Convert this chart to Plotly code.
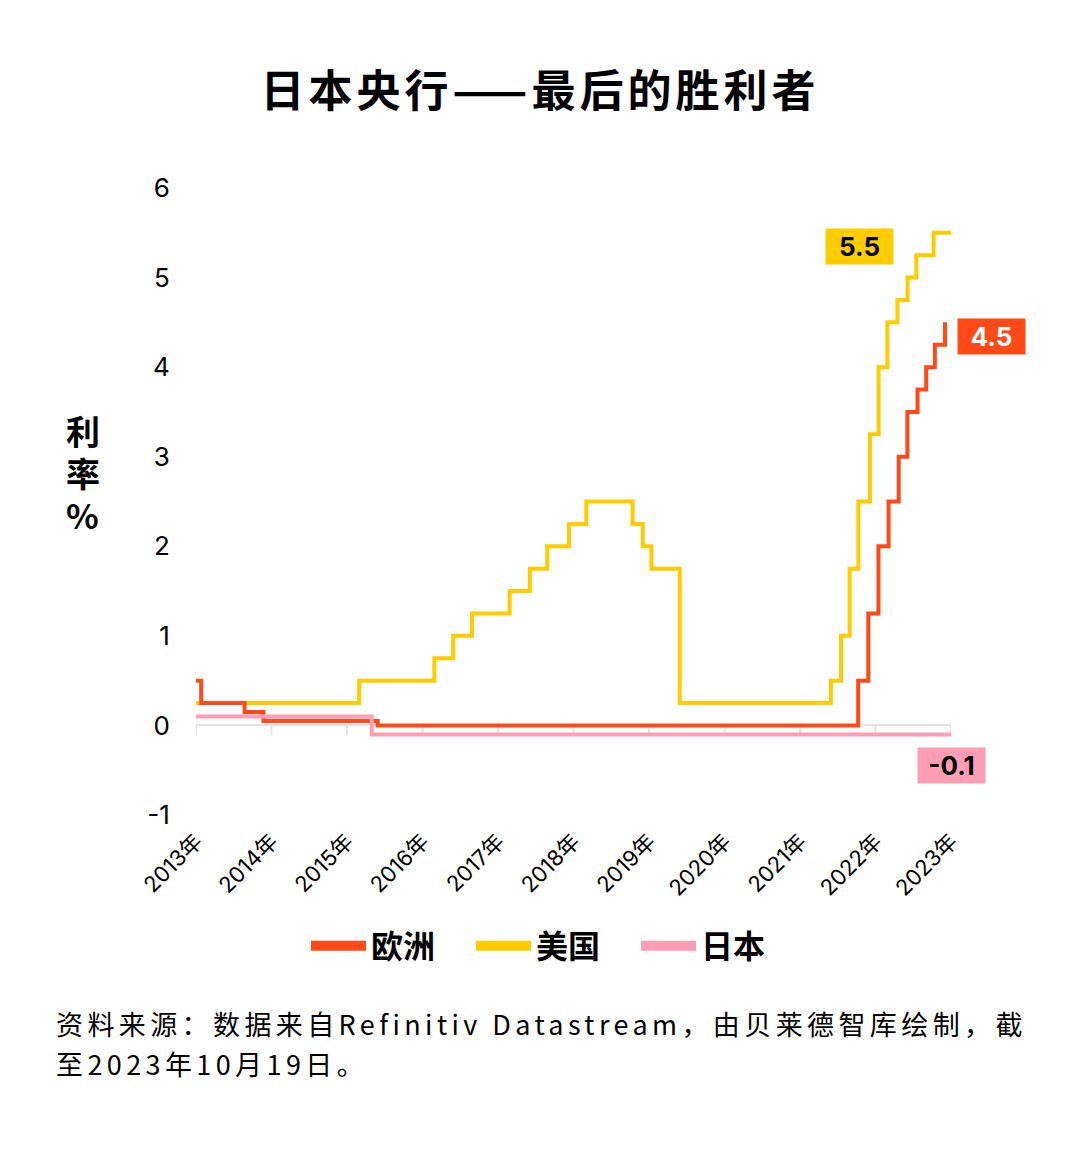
import plotly.graph_objects as go

# policy rate change dates and levels (%), step series
eu_dates = ["2013-10-19", "2013-11-13", "2014-06-11", "2014-09-10", "2016-03-16",
            "2022-07-27", "2022-09-14", "2022-11-02", "2022-12-21", "2023-02-08",
            "2023-03-22", "2023-05-10", "2023-06-21", "2023-08-02", "2023-09-20"]
eu_rates = [0.5, 0.25, 0.15, 0.05, 0.0, 0.5, 1.25, 2.0, 2.5, 3.0, 3.5, 3.75, 4.0, 4.25, 4.5]

us_dates = ["2013-10-19", "2015-12-17", "2016-12-15", "2017-03-16", "2017-06-15",
            "2017-12-14", "2018-03-22", "2018-06-14", "2018-09-27", "2018-12-20",
            "2019-08-01", "2019-09-19", "2019-10-31", "2020-03-16", "2022-03-17",
            "2022-05-05", "2022-06-16", "2022-07-28", "2022-09-22", "2022-11-03",
            "2022-12-15", "2023-02-02", "2023-03-23", "2023-05-04", "2023-07-27",
            "2023-10-19"]
us_rates = [0.25, 0.5, 0.75, 1.0, 1.25, 1.5, 1.75, 2.0, 2.25, 2.5, 2.25, 2.0, 1.75,
            0.25, 0.5, 1.0, 1.75, 2.5, 3.25, 4.0, 4.5, 4.75, 5.0, 5.25, 5.5, 5.5]

jp_dates = ["2013-10-19", "2016-02-16", "2023-10-19"]
jp_rates = [0.1, -0.1, -0.1]

year_ticks = [f"{y}-10-19" for y in range(2013, 2024)]
year_labels = [f"{y}年" for y in range(2013, 2024)]
y_ticks = [-1, 0, 1, 2, 3, 4, 5, 6]
y_labels = ["-1", "0", "1", "2", "3", "4", "5", "6"]

RED = "#FF4A17"
YELLOW = "#FFCC00"
PINK = "#FF9DB5"
FONT = "Inter, Noto Sans CJK SC, sans-serif"
CJK = "Noto Sans CJK SC"

fig = go.Figure()
# yellow under red under pink, as in the original
fig.add_trace(go.Scatter(x=us_dates, y=us_rates, mode="lines", line=dict(color=YELLOW, width=4, shape="hv"),
                         showlegend=False))
fig.add_trace(go.Scatter(x=eu_dates, y=eu_rates, mode="lines", line=dict(color=RED, width=4, shape="hv"),
                         showlegend=False))
fig.add_trace(go.Scatter(x=jp_dates, y=jp_rates, mode="lines", line=dict(color=PINK, width=4, shape="hv"),
                         showlegend=False))

# legend-only entries with thick lines
for name, color in [("欧洲", RED), ("美国", YELLOW), ("日本", PINK)]:
    fig.add_trace(go.Scatter(x=[None], y=[None], mode="lines", name=f"<b>{name}</b>",
                             line=dict(color=color, width=10)))

# tick marks hanging from the zero line
for t in year_ticks:
    fig.add_shape(type="line", xref="x", yref="y", x0=t, x1=t, ysizemode="pixel", yanchor=0,
                  y0=0, y1=-10, line=dict(color="#e3e3e3", width=2), layer="below")

# end-value labels
fig.add_annotation(x=us_dates[-1], y=us_rates[-1], text="<b>5.5</b>", showarrow=False,
                   xshift=-92, yshift=-14, bgcolor=YELLOW, width=65, height=33,
                   font=dict(family=FONT, size=26, color="black"))
fig.add_annotation(x=eu_dates[-1], y=eu_rates[-1], text="<b>4.5</b>", showarrow=False,
                   xshift=46, yshift=-14, bgcolor=RED, width=65, height=33,
                   font=dict(family=FONT, size=26, color="white"))
fig.add_annotation(x=jp_dates[-1], y=jp_rates[-1], text="<b>-0.1</b>", showarrow=False,
                   xshift=0, yshift=-31, bgcolor=PINK, width=65, height=33,
                   font=dict(family=FONT, size=26, color="black"))

# y-axis title, stacked one glyph per line
for txt, yy in [("利", 0.614), ("率", 0.547), ("%", 0.480)]:
    fig.add_annotation(xref="paper", yref="paper", x=-0.1497, y=yy, text=f"<b>{txt}</b>",
                       showarrow=False, xanchor="center", yanchor="middle", height=38,
                       font=dict(family=CJK, size=34, color="black"))

# source note
SP = '<span style="letter-spacing:4.4px">'
fig.add_annotation(xref="paper", yref="paper", x=-0.188, y=-0.332, xanchor="left", yanchor="middle",
                   text=SP + "资料来源：数据来自Refinitiv Datastream，由贝莱德智库绘制，截</span>",
                   showarrow=False, font=dict(family=CJK, size=27, color="black"))
fig.add_annotation(xref="paper", yref="paper", x=-0.188, y=-0.396, xanchor="left", yanchor="middle",
                   text=SP + "至2023年10月19日。</span>", showarrow=False,
                   font=dict(family=CJK, size=27, color="black"))

fig.update_layout(
    width=1080, height=1149,
    paper_bgcolor="white", plot_bgcolor="white",
    margin=dict(l=188, r=137, t=180, b=342),
    title=dict(text='<b><span style="letter-spacing:4px">日本央行——最后的胜利者</span></b>',
               x=532 / 1080, xref="container", xanchor="center",
               y=1 - 84 / 1149, yref="container", yanchor="middle",
               font=dict(family=CJK, size=44, color="black")),
    xaxis=dict(type="date", range=[year_ticks[0], year_ticks[-1]], tickvals=year_ticks,
               ticktext=year_labels, tickangle=-45, showgrid=False, showline=False, zeroline=False,
               ticks="outside", ticklen=4, tickcolor="rgba(0,0,0,0)",
               tickfont=dict(family=FONT, size=22, color="black")),
    yaxis=dict(range=[-1, 6], tickvals=y_ticks, ticktext=y_labels, showgrid=False, showline=False,
               zeroline=True, zerolinecolor="#e3e3e3", zerolinewidth=2,
               ticks="outside", ticklen=20, tickcolor="rgba(0,0,0,0)",
               tickfont=dict(family=FONT, size=26, color="black")),
    legend=dict(orientation="h", x=0.4735, xanchor="center", y=-0.209, yanchor="middle",
                font=dict(family=CJK, size=32, color="black"), itemwidth=55,
                entrywidth=95, traceorder="normal"),
)

fig.write_html("out.html")
